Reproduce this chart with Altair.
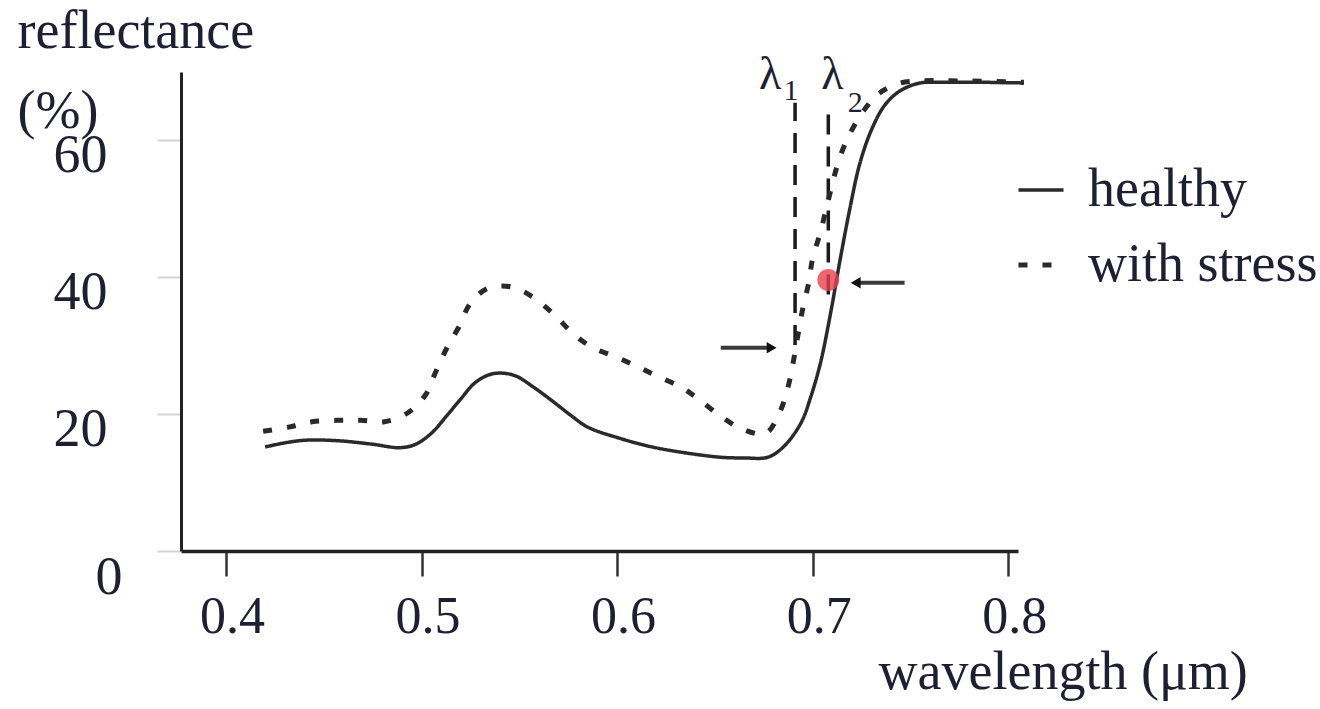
import altair as alt
import pandas as pd

# ---- data ----
healthy_wl = [0.420, 0.430, 0.441, 0.458, 0.475, 0.489, 0.497, 0.505, 0.513, 0.520,
              0.527, 0.534, 0.540, 0.548, 0.557, 0.567, 0.576, 0.585, 0.601, 0.618,
              0.636, 0.653, 0.665, 0.677, 0.685, 0.694, 0.699, 0.704, 0.709, 0.714,
              0.719, 0.724, 0.730, 0.737, 0.745, 0.755, 0.765, 0.786, 0.808]
healthy_refl = [15.2, 15.8, 16.2, 16.1, 15.6, 15.1, 15.6, 17.2, 19.8, 22.2,
                24.5, 25.7, 26.0, 25.6, 24.0, 21.9, 19.9, 18.1, 16.5, 15.2,
                14.3, 13.7, 13.6, 13.7, 15.2, 18.7, 22.5, 27.5, 34.5, 42.5,
                50.0, 56.5, 61.5, 65.2, 67.3, 68.4, 68.5, 68.5, 68.4]

stress_wl = [0.419, 0.432, 0.444, 0.457, 0.469, 0.481, 0.493, 0.502, 0.507, 0.513,
             0.519, 0.525, 0.534, 0.546, 0.557, 0.568, 0.577, 0.587, 0.599, 0.610,
             0.621, 0.633, 0.642, 0.653, 0.664, 0.676, 0.683, 0.687, 0.690, 0.692,
             0.695, 0.698, 0.700, 0.704, 0.708, 0.714, 0.720, 0.727, 0.734, 0.745,
             0.755, 0.775, 0.808]
stress_refl = [17.5, 18.1, 18.9, 19.1, 19.1, 18.9, 20.2, 22.8, 26.0, 29.7,
               32.7, 36.2, 38.4, 38.6, 37.1, 34.5, 31.9, 29.8, 28.4, 27.0,
               25.5, 23.9, 22.1, 19.7, 17.8, 17.2, 20.2, 23.5, 27.5, 30.8,
               35.5, 39.2, 42.8, 46.6, 51.3, 57.6, 61.5, 64.7, 66.9, 68.4,
               68.7, 68.7, 68.5]

series_names = ["healthy", "with stress"]
x_ticks = [0.4, 0.5, 0.6, 0.7, 0.8]
y_ticks = [0, 20, 40, 60]

lambda_wl = [0.691, 0.708]
lambda_sub = ["1", "2"]
lambda_top = [65.5, 65.5]
lambda_bottom = [30.1, 37.5]

arrow_from = [0.653, 0.747]
arrow_to = [0.679, 0.722]
arrow_refl = [29.7, 39.2]
arrow_dir = ["right", "left"]

marker_wl = [0.708]
marker_refl = [39.6]

# ---- tables ----
curves = pd.concat([
    pd.DataFrame({"wavelength": healthy_wl, "reflectance": healthy_refl, "series": series_names[0]}),
    pd.DataFrame({"wavelength": stress_wl, "reflectance": stress_refl, "series": series_names[1]}),
], ignore_index=True)
lam_df = pd.DataFrame({"wavelength": lambda_wl, "reflectance": lambda_bottom,
                       "top": lambda_top, "sub": lambda_sub})
arrow_df = pd.DataFrame({"wavelength": arrow_from, "wl_to": arrow_to,
                         "reflectance": arrow_refl, "dir": arrow_dir})
head_df = pd.DataFrame({"wavelength": arrow_to, "reflectance": arrow_refl, "dir": arrow_dir})
marker_df = pd.DataFrame({"wavelength": marker_wl, "reflectance": marker_refl})

FONT = "Liberation Serif"
TEXT = "#1f1f33"
LINE = "#2a2a2a"

x_scale = alt.Scale(domain=[0.377, 0.805], nice=False, zero=False)
y_scale = alt.Scale(domain=[0, 70], nice=False)

x_axis = alt.Axis(
    values=x_ticks, format=".1f", grid=False,
    title="wavelength (μm)", titleFont=FONT, titleFontSize=54, titleFontWeight="normal",
    titleColor=TEXT, titleAlign="left", titleBaseline="alphabetic", titleX=697, titleY=137,
    labelFont=FONT, labelFontSize=52, labelColor=TEXT, labelPadding=15, labelOffset=6,
    labelFlush=False, labelOverlap=False,
    tickSize=25, tickWidth=2.5, tickColor="#333333",
    domainColor="#222222", domainWidth=3.5,
)
y_axis = alt.Axis(
    values=y_ticks, format="d", grid=False,
    title=["reflectance", "(%)"], titleFont=FONT, titleFontSize=54, titleFontWeight="normal",
    titleColor=TEXT, titleAngle=0, titleAlign="left", titleBaseline="alphabetic",
    titleX=-164, titleY=-25, titleLineHeight=80,
    labelFont=FONT, labelFontSize=54, labelColor=TEXT,
    labelPadding={"condition": {"test": "datum.value == 0", "value": 35}, "value": 50},
    labelOffset={"condition": {"test": "datum.value == 0", "value": 26}, "value": 15},
    tickSize=24, tickWidth=2, tickColor="#d4d4d4",
    domainColor="#222222", domainWidth=3,
)

base = alt.Chart(curves)

lines = base.mark_line(interpolate="catmull-rom", clip=False, color=LINE).encode(
    x=alt.X("wavelength:Q", scale=x_scale, axis=x_axis),
    y=alt.Y("reflectance:Q", scale=y_scale, axis=y_axis),
    strokeDash=alt.StrokeDash(
        "series:N",
        scale=alt.Scale(domain=series_names, range=[[1, 0], [9, 15]]),
        legend=alt.Legend(
            title=None, orient="none", legendX=833, legendY=91,
            symbolType="stroke", symbolSize=2025, symbolStrokeWidth=4,
            symbolStrokeColor=LINE, labelFont=FONT, labelFontSize=54,
            labelColor=TEXT, labelOffset=20, rowPadding=21, padding=0,
            labelLimit=400,
        ),
    ),
    strokeWidth=alt.StrokeWidth(
        "series:N", scale=alt.Scale(domain=series_names, range=[3.5, 5]), legend=None
    ),
)

lam_lines = alt.Chart(lam_df).mark_rule(
    strokeDash=[20, 12], strokeWidth=3.5, color="#1a1a1a"
).encode(
    x=alt.X("wavelength:Q", scale=x_scale),
    y=alt.Y("reflectance:Q", scale=y_scale),
    y2="top:Q",
)

lam1 = alt.Chart(lam_df.iloc[[0]]).mark_text(
    text="λ", font=FONT, fontSize=46, color=TEXT, align="center", baseline="alphabetic",
    dx=-25, dy=-14,
).encode(x=alt.X("wavelength:Q", scale=x_scale), y=alt.Y("top:Q", scale=y_scale))
lam2 = alt.Chart(lam_df.iloc[[1]]).mark_text(
    text="λ", font=FONT, fontSize=46, color=TEXT, align="center", baseline="alphabetic",
    dx=4, dy=-14,
).encode(x=alt.X("wavelength:Q", scale=x_scale), y=alt.Y("top:Q", scale=y_scale))
sub1 = alt.Chart(lam_df.iloc[[0]]).mark_text(
    font=FONT, fontSize=30, color=TEXT, align="center", baseline="alphabetic",
    dx=-4, dy=-3,
).encode(x=alt.X("wavelength:Q", scale=x_scale), y=alt.Y("top:Q", scale=y_scale), text="sub:N")
sub2 = alt.Chart(lam_df.iloc[[1]]).mark_text(
    font=FONT, fontSize=30, color=TEXT, align="center", baseline="alphabetic",
    dx=27, dy=9,
).encode(x=alt.X("wavelength:Q", scale=x_scale), y=alt.Y("top:Q", scale=y_scale), text="sub:N")

arrows = alt.Chart(arrow_df).mark_rule(strokeWidth=4, color="#3a3a3a").encode(
    x=alt.X("wavelength:Q", scale=x_scale),
    x2="wl_to:Q",
    y=alt.Y("reflectance:Q", scale=y_scale),
)
heads = alt.Chart(head_df).mark_point(filled=True, size=130, color="#111111", opacity=1).encode(
    x=alt.X("wavelength:Q", scale=x_scale),
    y=alt.Y("reflectance:Q", scale=y_scale),
    shape=alt.Shape("dir:N", scale=alt.Scale(domain=["right", "left"],
                                              range=["triangle-right", "triangle-left"]),
                    legend=None),
)

marker = alt.Chart(marker_df).mark_circle(size=480, color="#e8404f", opacity=0.8).encode(
    x=alt.X("wavelength:Q", scale=x_scale),
    y=alt.Y("reflectance:Q", scale=y_scale),
)

chart = alt.layer(
    lam_lines, lines, arrows, heads, marker, lam1, lam2, sub1, sub2
).properties(
    width=837, height=479,
    autosize=alt.AutoSizeParams(type="none"),
    padding={"left": 181, "top": 72, "right": 302, "bottom": 158},
    background="white",
).configure_view(stroke=None)

chart.save("out.html", embed_options={"renderer": "svg", "actions": False})
